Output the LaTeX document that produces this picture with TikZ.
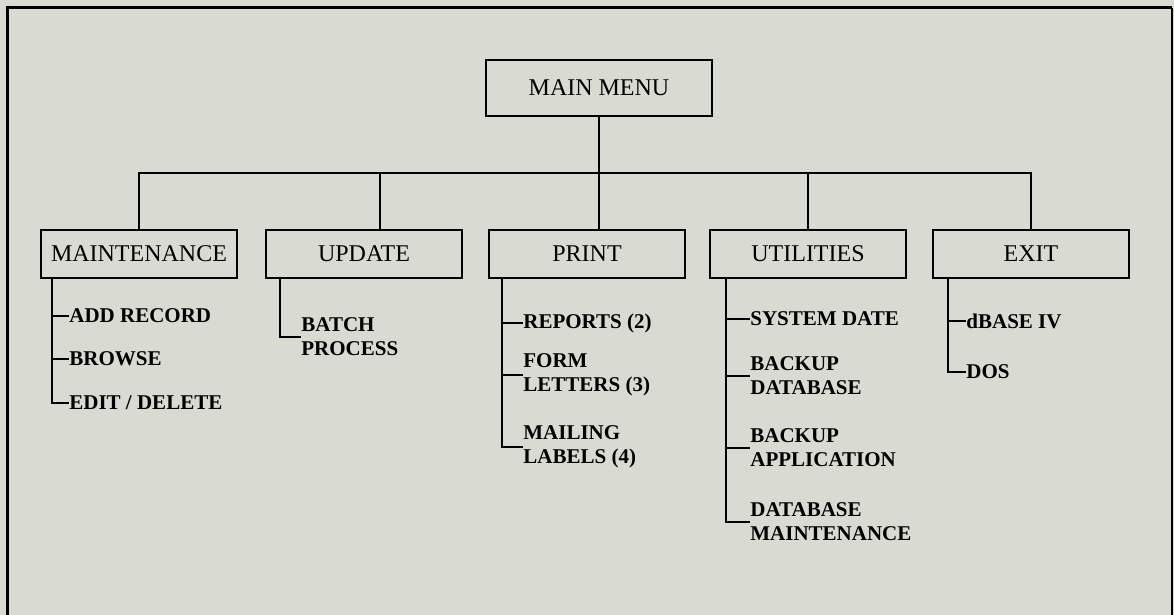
\documentclass[tikz,border=0pt]{standalone}
\usepackage{fontspec}
\setmainfont{Liberation Serif}
\usetikzlibrary{positioning}

\definecolor{paper}{RGB}{217,218,210}
\tikzset{
  menubox/.style={draw, line width=1.3pt, minimum width=98pt, minimum height=24pt,
    inner sep=0pt, font=\fontsize{12}{14}\selectfont},
  item/.style={anchor=west, inner sep=0pt, align=left,
    font=\fontsize{10.5}{12}\selectfont\bfseries},
  link/.style={line width=1.1pt}
}

\begin{document}
\begin{tikzpicture}[x=0.5pt,y=-0.5pt]

    \useasboundingbox (0,0) rectangle (1174,615);
    \fill[paper] (0,0) rectangle (1174,615);
    \clip (0,0) rectangle (1174,615);

    % Frame
    \draw[line width=1.5pt] (7,660) -- (7,8) -- (1172,8);
    \draw[line width=0.8pt] (1172,8) -- (1172,660);

    % Menu boxes
    \node[menubox, minimum width=113pt, minimum height=28pt] (main) at (599,88) {MAIN MENU};
    \node[menubox] (maint) at (139,254) {MAINTENANCE};
    \node[menubox] (update) at (364,254) {UPDATE};
    \node[menubox] (print) at (587,254) {PRINT};
    \node[menubox] (util) at (808,254) {UTILITIES};
    \node[menubox] (exit) at (1031,254) {EXIT};

    \coordinate (bus) at (599,173);
    \coordinate (updrop) at (380,173);

    % Tree connectors
    \draw[link] (main.south) -- (print.north -| main.south);
    \draw[link] (maint.north) |- (exit.north |- bus) -- (exit.north);
    \draw[link] (updrop) -- (updrop |- update.north);
    \draw[link] (util.north |- bus) -- (util.north);

    % Sub items
    \node[item] (addrec) at (69,316) {ADD RECORD};
    \node[item] (browse) at (69,359) {BROWSE};
    \node[item] (editdel) at (69,403) {EDIT / DELETE};

    \node[item] (batch) at (301,337) {BATCH\\PROCESS};

    \node[item] (reports) at (523,323) {REPORTS (2)};
    \node[item] (letters) at (523,375) {FORM\\LETTERS (3)};
    \node[item] (labels) at (523,447) {MAILING\\LABELS (4)};

    \node[item] (sysdate) at (750,319) {SYSTEM DATE};
    \node[item] (backdb) at (750,376) {BACKUP\\DATABASE};
    \node[item] (backapp) at (750,448) {BACKUP\\APPLICATION};
    \node[item] (dbmaint) at (750,522) {DATABASE\\MAINTENANCE};

    \node[item] (dbase) at (966,321) {dBASE IV};
    \node[item] (dos) at (966,372) {DOS};

    \coordinate (mspine) at ([xshift=6pt]maint.south west);
    \coordinate (uspine) at ([xshift=7.5pt]update.south west);
    \coordinate (pspine) at ([xshift=7pt]print.south west);
    \coordinate (tspine) at ([xshift=8.5pt]util.south west);
    \coordinate (espine) at ([xshift=8pt]exit.south west);

    % Item connectors
    \draw[link] (mspine) |- (editdel.west);
    \draw[link] (mspine |- addrec.west) -- (addrec.west);
    \draw[link] (mspine |- browse.west) -- (browse.west);

    \draw[link] (uspine) |- (batch.west);

    \draw[link] (pspine) |- (labels.west);
    \draw[link] (pspine |- reports.west) -- (reports.west);
    \draw[link] (pspine |- letters.west) -- (letters.west);

    \draw[link] (tspine) |- (dbmaint.west);
    \draw[link] (tspine |- sysdate.west) -- (sysdate.west);
    \draw[link] (tspine |- backdb.west) -- (backdb.west);
    \draw[link] (tspine |- backapp.west) -- (backapp.west);

    \draw[link] (espine) |- (dos.west);
    \draw[link] (espine |- dbase.west) -- (dbase.west);

\end{tikzpicture}
\end{document}
